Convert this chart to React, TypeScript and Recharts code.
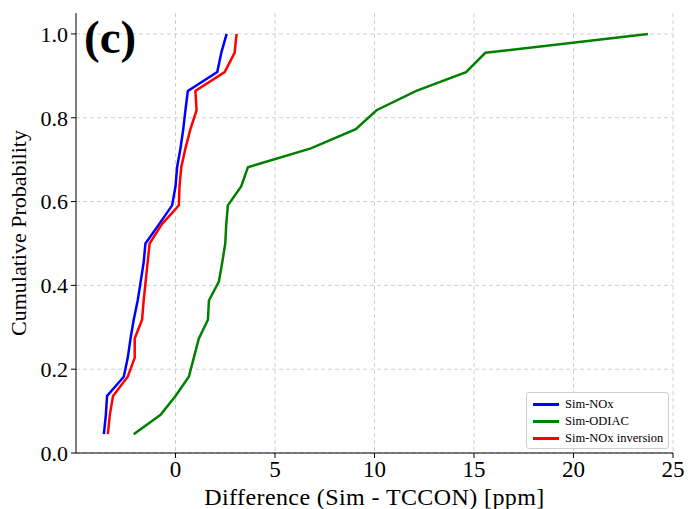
import React from "react";
import { LineChart, Line, XAxis, YAxis, CartesianGrid, Legend } from "recharts";

const probability = [
  0.045, 0.091, 0.136, 0.182, 0.227, 0.273, 0.318, 0.364, 0.409, 0.455, 0.5,
  0.545, 0.591, 0.636, 0.682, 0.727, 0.773, 0.818, 0.864, 0.909, 0.955, 1.0,
];
const simNOx = [
  -3.6, -3.5, -3.44, -2.6, -2.4, -2.26, -2.1, -1.9, -1.75, -1.6, -1.51,
  -0.84, -0.17, 0.0, 0.08, 0.25, 0.39, 0.5, 0.62, 2.1, 2.3, 2.57,
];
const simODIAC = [
  -2.1, -0.75, 0.0, 0.67, 0.92, 1.17, 1.63, 1.68, 2.18, 2.35, 2.5,
  2.55, 2.63, 3.3, 3.64, 6.8, 9.06, 10.1, 12.1, 14.6, 15.57, 23.74,
];
const simNOxInv = [
  -3.4, -3.3, -3.14, -2.4, -2.05, -2.05, -1.68, -1.6, -1.5, -1.4, -1.3,
  -0.7, 0.17, 0.2, 0.29, 0.5, 0.75, 1.06, 1.0, 2.47, 2.97, 3.07,
];
const xTicks = [0, 5, 10, 15, 20, 25];
const yTicks = [0, 0.2, 0.4, 0.6, 0.8, 1.0];

const seriesInfo = [
  { name: "Sim-NOx", values: simNOx, color: "#0000ff" },
  { name: "Sim-ODIAC", values: simODIAC, color: "#008000" },
  { name: "Sim-NOx inversion", values: simNOxInv, color: "#ff0000" },
];

const build = (xs: number[]) => xs.map((x, i) => ({ x, y: probability[i] }));

const FONT = "'Liberation Serif', 'Times New Roman', serif";

const LegendBox = () => (
  <div
    style={{
      position: "absolute",
      left: 526,
      top: 392,
      width: 143,
      height: 57,
      border: "1px solid #cfcfcf",
      borderRadius: 3,
      background: "#fff",
      fontFamily: FONT,
      fontSize: 12.5,
      boxSizing: "border-box",
      paddingTop: 3,
    }}
  >
    {seriesInfo.map((s) => (
      <div key={s.name} style={{ display: "flex", alignItems: "center", height: 17 }}>
        <div style={{ width: 26, height: 2.5, background: s.color, marginLeft: 6, marginRight: 6 }} />
        <span>{s.name}</span>
      </div>
    ))}
  </div>
);

export default function App() {
  return (
    <div style={{ position: "absolute", left: 0, top: 0, width: 688, height: 509, background: "#fff" }}>
      <LineChart width={688} height={509} margin={{ top: 13, right: 15, left: 0, bottom: 0 }}>
        <CartesianGrid stroke="#d0d0d0" strokeDasharray="4 3" horizontalValues={yTicks} verticalValues={xTicks} />
        <XAxis
          type="number"
          dataKey="x"
          domain={[-5, 25]}
          ticks={xTicks}
          allowDataOverflow
          height={56}
          stroke="#000"
          tickSize={5}
          tick={{ fill: "#000", fontSize: 23, fontFamily: FONT }}
          tickMargin={3}
          label={{ value: "Difference (Sim - TCCON) [ppm]", position: "insideBottom", offset: 4, style: { fill: "#000", fontSize: 24, letterSpacing: 0.4, fontFamily: FONT } }}
        />
        <XAxis xAxisId="top" orientation="top" type="number" domain={[-5, 25]} height={0} tick={false} tickLine={false} stroke="#555" />
        <YAxis
          type="number"
          dataKey="y"
          domain={[0, 1.05]}
          ticks={yTicks}
          allowDataOverflow
          width={76}
          stroke="#000"
          tickSize={5}
          tickFormatter={(v: number) => v.toFixed(1)}
          tick={{ fill: "#000", fontSize: 22, fontFamily: FONT }}
          tickMargin={3}
          label={{ value: "Cumulative Probability", angle: -90, position: "insideLeft", offset: 0, dx: 18, style: { fill: "#000", fontSize: 22, fontFamily: FONT, textAnchor: "middle" } }}
        />
        <YAxis yAxisId="right" orientation="right" type="number" domain={[0, 1.05]} width={0} tick={false} tickLine={false} stroke="#222" />
        {seriesInfo.map((s) => (
          <Line
            key={s.name}
            data={build(s.values)}
            dataKey="y"
            name={s.name}
            type="linear"
            stroke={s.color}
            strokeWidth={2.5}
            dot={false}
            activeDot={false}
            isAnimationActive={false}
          />
        ))}
        <Legend content={() => null} />
      </LineChart>
      <div
        style={{
          position: "absolute",
          left: 84,
          top: 14,
          fontFamily: FONT,
          fontWeight: "bold",
          fontSize: 47,
          lineHeight: 1,
          color: "#000",
        }}
      >
        (c)
      </div>
      <LegendBox />
    </div>
  );
}
